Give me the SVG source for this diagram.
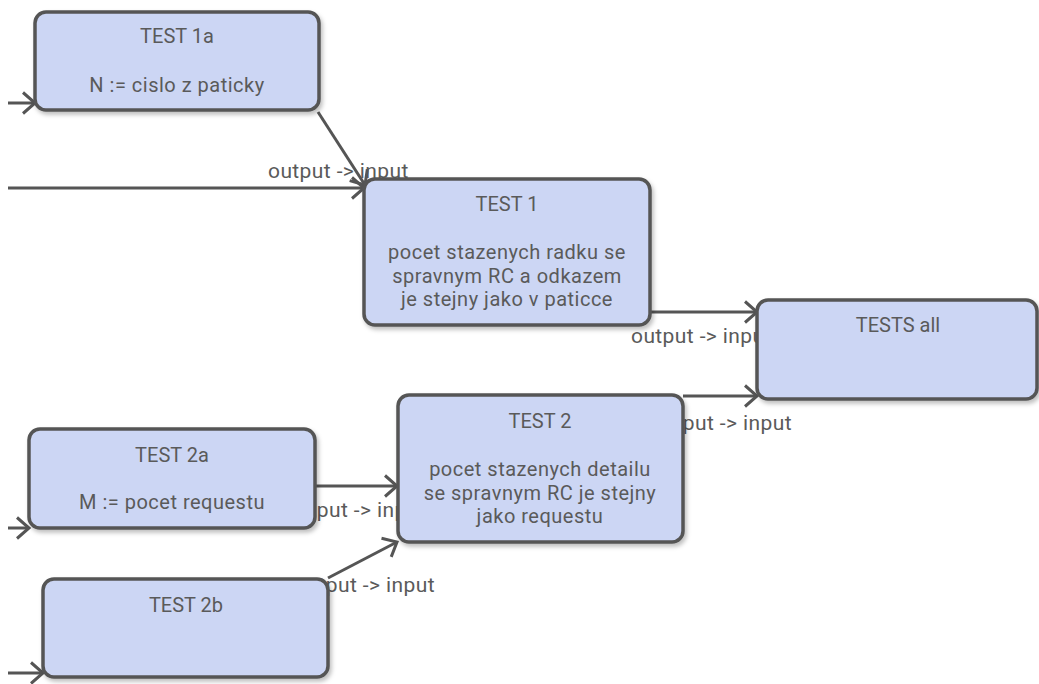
<svg xmlns="http://www.w3.org/2000/svg" width="1039" height="684" viewBox="0 0 1039 684">
  <style>
    .box { fill: #ccd6f4; stroke: #555555; stroke-width: 3.5; filter: url(#shadow); }
    .txt { font-family: Roboto, "Liberation Sans", sans-serif; font-size: 20px; fill: #5a5a5a; text-anchor: middle; }
    .body { letter-spacing: 0.5px; }
    .lbl { font-family: Roboto, "Liberation Sans", sans-serif; font-size: 21px; letter-spacing: 0.4px; fill: #5a5a5a; }
    .edge { fill: none; stroke: #555555; stroke-width: 3; marker-end: url(#arrow); }
  </style>
  <defs>
    <filter id="shadow" x="-10%" y="-10%" width="125%" height="130%">
      <feDropShadow dx="2" dy="3" stdDeviation="2" flood-color="#000000" flood-opacity="0.25"/>
    </filter>
    <marker id="arrow" markerUnits="userSpaceOnUse" markerWidth="30" markerHeight="30" refX="15" refY="15" orient="auto" viewBox="0 0 30 30">
      <path d="M3,4.5 L15,15 L3,25.5" fill="none" stroke="#555555" stroke-width="3"/>
    </marker>
  </defs>

  <!-- connectors and their labels -->
  <g id="connectors">
    <text class="lbl" x="268" y="178">output -&gt; input</text>
    <text class="lbl" x="631" y="343">output -&gt; input</text>
    <text class="lbl" x="792" y="430" text-anchor="end">output -&gt; input</text>
    <text class="lbl" x="426" y="517" text-anchor="end">output -&gt; input</text>
    <text class="lbl" x="435" y="592" text-anchor="end">output -&gt; input</text>

    <line class="edge" x1="8" y1="103" x2="35" y2="103"/>
    <line class="edge" x1="318" y1="112" x2="365" y2="185"/>
    <line class="edge" x1="8" y1="188" x2="364" y2="188"/>
    <line class="edge" x1="650" y1="312" x2="757" y2="312"/>
    <line class="edge" x1="683" y1="396" x2="757" y2="396"/>
    <line class="edge" x1="8" y1="528" x2="29" y2="528"/>
    <line class="edge" x1="315" y1="486" x2="397" y2="486"/>
    <line class="edge" x1="328" y1="578" x2="397" y2="542"/>
    <line class="edge" x1="8" y1="673" x2="43" y2="673"/>
  </g>

  <g id="test1a">
    <rect class="box" x="35" y="12" width="284" height="98" rx="11"/>
    <text class="txt" x="177" y="43">TEST 1a</text>
    <text class="txt body" x="177" y="92">N := cislo z paticky</text>
  </g>

  <g id="test1">
    <rect class="box" x="364" y="179" width="286" height="146" rx="11"/>
    <text class="txt" x="507" y="211">TEST 1</text>
    <text class="txt body" x="507" y="259">pocet stazenych radku se</text>
    <text class="txt body" x="507" y="282.5">spravnym RC a odkazem</text>
    <text class="txt body" x="507" y="306">je stejny jako v paticce</text>
  </g>

  <g id="tests-all">
    <rect class="box" x="757" y="300" width="280" height="99" rx="11"/>
    <text class="txt" x="898" y="332">TESTS all</text>
  </g>

  <g id="test2">
    <rect class="box" x="398" y="395" width="285" height="147" rx="11"/>
    <text class="txt" x="540" y="428">TEST 2</text>
    <text class="txt body" x="540" y="476">pocet stazenych detailu</text>
    <text class="txt body" x="540" y="499.5">se spravnym RC je stejny</text>
    <text class="txt body" x="540" y="523">jako requestu</text>
  </g>

  <g id="test2a">
    <rect class="box" x="29" y="429" width="286" height="99" rx="11"/>
    <text class="txt" x="172" y="462">TEST 2a</text>
    <text class="txt body" x="172" y="509">M := pocet requestu</text>
  </g>

  <g id="test2b">
    <rect class="box" x="43" y="579" width="285" height="98" rx="11"/>
    <text class="txt" x="186" y="612">TEST 2b</text>
  </g>
</svg>
